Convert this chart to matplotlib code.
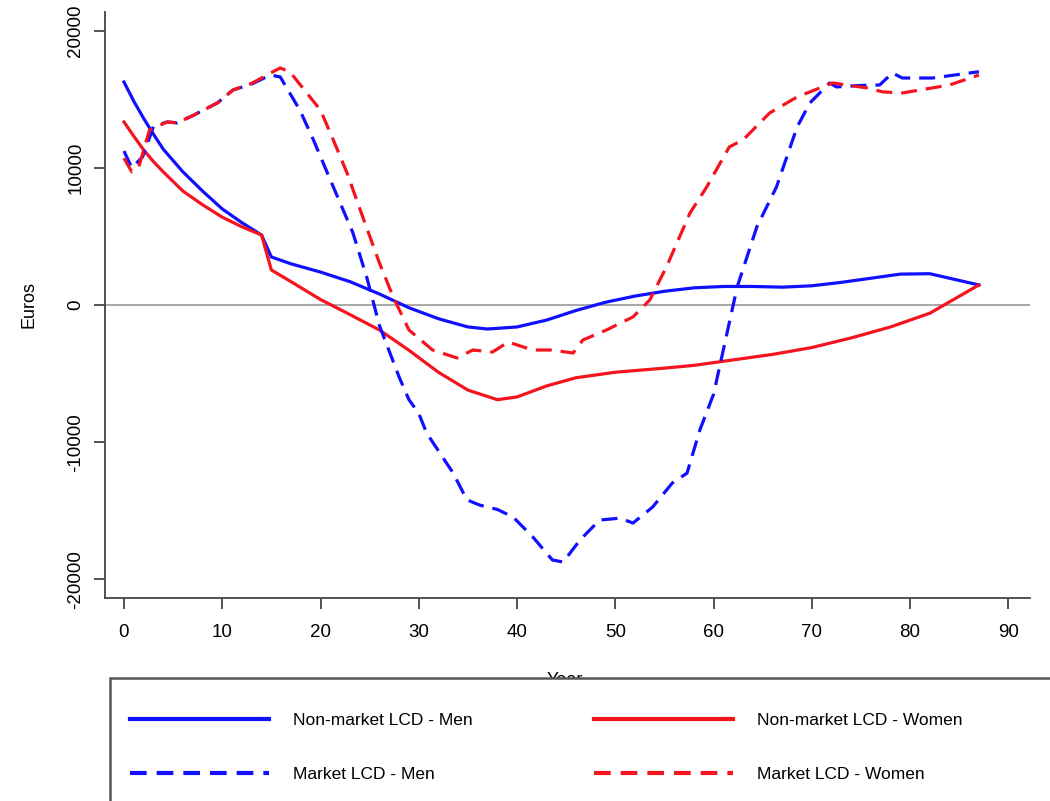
import matplotlib.pyplot as plt
from matplotlib.lines import Line2D
from matplotlib.patches import Rectangle

plt.rcParams['font.family'] = ['Liberation Sans', 'DejaVu Sans']

# ----------------------
# data (age in years, value in euros)
# ----------------------
nm_men_age = [0, 1, 2, 3, 4, 6, 8, 10, 12, 14, 15, 17, 20, 23, 26, 29, 32, 35, 37, 40,
              43, 46, 49, 52, 55, 58, 61, 64, 67, 70, 73, 76, 79, 82, 87]
nm_men_val = [16250, 14850, 13600, 12450, 11350, 9700, 8300, 7000, 6000, 5100, 3500,
              3000, 2400, 1700, 800, -200, -1000, -1600, -1750, -1600, -1100, -400,
              200, 650, 1000, 1250, 1350, 1350, 1300, 1400, 1650, 1950, 2250, 2280, 1460]

nm_women_age = [0, 1, 2, 3, 4, 6, 8, 10, 12, 14, 15, 17, 20, 23, 26, 29, 32, 35, 38, 40,
                43, 46, 50, 55, 58, 62, 66, 70, 74, 78, 82, 87]
nm_women_val = [13340, 12300, 11300, 10450, 9700, 8300, 7300, 6400, 5700, 5100, 2550,
                1700, 400, -700, -1820, -3300, -4900, -6200, -6900, -6700, -5900, -5300,
                -4900, -4600, -4400, -4000, -3600, -3100, -2400, -1600, -600, 1460]

mk_men_age = [0, 0.8, 1.9, 3, 4.4, 5.4, 7, 9.5, 11.1, 13, 14.9, 15.9, 17.9, 19.3,
              20.7, 23.3, 24.7, 26, 28, 29, 30, 30.8, 33.5, 34.9, 36.2, 38, 39.6,
              41.6, 43.6, 44.7, 46.4, 48.4, 50.5, 51.8, 53.8, 55.8, 57.3, 58.6, 60,
              62.4, 64.4, 66.4, 68.5, 69.8, 71.8, 72.5, 75, 76.9, 78.2, 79.2, 82.3, 87]
mk_men_val = [11220, 10000, 10800, 13000, 13340, 13270, 13800, 14720, 15670, 16100,
              16760, 16620, 14200, 12000, 9620, 5250, 2040, -1500, -5250, -6900,
              -7900, -9330, -12250, -14200, -14580, -14900, -15450, -16900, -18580,
              -18730, -17130, -15670, -15530, -15890, -14720, -12970, -12250, -9110,
              -6500, 1310, 5690, 8600, 12970, 14720, 16180, 15890, 16000, 16030,
              16910, 16540, 16540, 17000]

mk_women_age = [0, 0.8, 1.5, 2.6, 4.4, 5.4, 7, 9.5, 11.1, 13, 14.9, 15.9, 16.9, 18.6,
                20, 21.3, 22.7, 24.3, 26, 27.4, 29, 31.4, 33.9, 35.5, 37.5, 39.1,
                41.6, 43.6, 45.7, 46.7, 49.1, 51.8, 53.5, 55.2, 57.6, 59.3, 61.6, 63,
                65.7, 68.5, 72.1, 75.6, 77.2, 79.2, 84, 87]
mk_women_val = [10700, 9700, 10060, 12750, 13340, 13270, 13800, 14720, 15670, 16150,
                16900, 17270, 16980, 15450, 14200, 12030, 9620, 6410, 3060, 580,
                -1820, -3280, -3860, -3280, -3430, -2700, -3280, -3280, -3500, -2550,
                -1820, -870, 360, 2770, 6700, 8600, 11520, 12030, 13990, 15160, 16180,
                15820, 15530, 15450, 16030, 16760]

labels = ["Non-market LCD - Men", "Market LCD - Men",
          "Non-market LCD - Women", "Market LCD - Women"]

BLUE = "#1010ff"
RED = "#f5141e"
DASH = (0, (5, 2.8))

# ----------------------
# figure
# ----------------------
fig = plt.figure(figsize=(10.5, 8.01), dpi=100)
ax = fig.add_axes([105 / 1050, 1 - 598 / 801, 925 / 1050, 586 / 801])

ax.axhline(0, color="#9a9a9a", lw=1.2, zorder=1)
ax.plot(nm_men_age, nm_men_val, color=BLUE, lw=2.3, zorder=3)
ax.plot(nm_women_age, nm_women_val, color=RED, lw=2.3, zorder=3)
ax.plot(mk_men_age, mk_men_val, color=BLUE, lw=2.3, ls=DASH, zorder=3)
ax.plot(mk_women_age, mk_women_val, color=RED, lw=2.3, ls=DASH, zorder=4)

ax.set_xlim(-1.93, 92.2)
ax.set_ylim(-21350, 21350)
ax.set_xticks(range(0, 100, 10))
ax.set_yticks([-20000, -10000, 0, 10000, 20000])
ax.set_yticklabels(["-20000", "-10000", "0", "10000", "20000"],
                   rotation=90, va="center")

for side in ["top", "right"]:
    ax.spines[side].set_visible(False)
for side in ["left", "bottom"]:
    ax.spines[side].set_color("#444444")
    ax.spines[side].set_linewidth(1.3)

ax.tick_params(axis="both", length=8, width=1.3, color="#444444",
               labelsize=13.5, pad=7)
ax.tick_params(axis="x", pad=11)
ax.set_ylabel("Euros", fontsize=13, labelpad=21)

# x label, mostly hidden behind the legend box
fig.text(565 / 1050, 1 - 672 / 801, "Year", ha="center", va="top", fontsize=13)

# ----------------------
# legend box
# ----------------------
box = Rectangle((110 / 1050, -0.05), 1.0, (801 - 678) / 801 + 0.05,
                transform=fig.transFigure, facecolor="white",
                edgecolor="#555555", lw=1.8, zorder=5)
fig.patches.append(box)

h_left = [Line2D([], [], color=BLUE, lw=3),
          Line2D([], [], color=BLUE, lw=3, ls=(0, (4, 2.4)))]
h_right = [Line2D([], [], color=RED, lw=3),
           Line2D([], [], color=RED, lw=3, ls=(0, (4, 2.4)))]

leg_opts = dict(loc="upper left", frameon=False, fontsize=12.5, handlelength=8,
                handletextpad=1.4, labelspacing=2.27, borderpad=0)
leg1 = fig.legend(h_left, labels[:2], bbox_to_anchor=(121 / 1050, 1 - 704 / 801),
                  **leg_opts)
leg2 = fig.legend(h_right, labels[2:], bbox_to_anchor=(585 / 1050, 1 - 704 / 801),
                  **leg_opts)
leg1.set_zorder(6)
leg2.set_zorder(6)

plt.savefig("out.png", dpi=100)
